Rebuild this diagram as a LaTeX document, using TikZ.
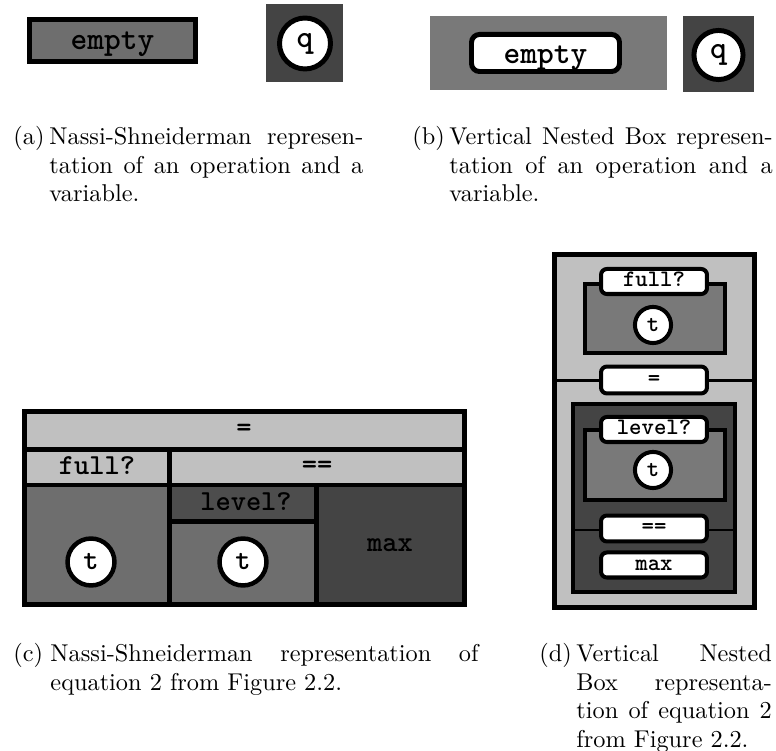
\documentclass[tikz,border=0pt]{standalone}
\usepackage{fontspec}
\definecolor{lg}{HTML}{C0C0C0}
\definecolor{mg}{HTML}{6E6E6E}
\definecolor{mgb}{HTML}{797979}
\definecolor{dg}{HTML}{444444}
\begin{document}
\begin{tikzpicture}[x=0.4237pt,y=-0.4237pt,
  tt/.style={font=\ttfamily\bfseries\fontsize{#1}{#1}\selectfont\addfontfeature{FakeStretch=1.15,FakeBold=1.3}},
  var/.style={circle,draw=black,fill=white,inner sep=0pt,minimum size=#1},
  lbl/.style={rectangle,draw=black,fill=white,line width=1.7pt,rounded corners=2.5pt,
              minimum width=44.9pt,minimum height=10.6pt,inner sep=0pt,tt=10,
              text height=5.6pt,text depth=1pt},
  cap/.style={anchor=base west,inner sep=0pt,text width=#1,align=justify,
              font=\fontsize{10.3}{12.07}\selectfont},
  caplab/.style={anchor=base west,inner sep=0pt,font=\fontsize{10.3}{12.07}\selectfont},
  thick5/.style={line width=2.1pt},
  thick4/.style={line width=1.7pt},
  thin3/.style={line width=1.2pt}]
\useasboundingbox (0,0) rectangle (776,751);

% ---------- (a) ----------
\draw[thick5,fill=mg] (29.75,19.75) rectangle (195.25,61.25);
\node[tt=13.5,anchor=base] (ea) at (112.5,50) {empty};
\fill[dg] (266,4) rectangle (343,82);
\node[var=21.6pt,thick5,tt=13.5] (qa) at (305,43.5) {q};
\node[caplab] (laba) at (13,145) {(a)};
\node[cap=133pt] (capa) at (49,145) {Nassi-Shneiderman~represen-\linebreak tation~of~an~operation~and~a\linebreak variable.};

% ---------- (b) ----------
\fill[mgb] (430,16) rectangle (667,90);
\node[lbl,thick5,minimum width=62.7pt,minimum height=15.7pt,rounded corners=3.4pt,tt=13.5,
      text height=9.5pt,text depth=1pt] (eb) at (545.5,53) {empty};
\fill[dg] (683,16) rectangle (754,92);
\node[var=20.8pt,thick5,tt=13.5] (qb) at (718.5,55) {q};
\node[caplab] (labb) at (412,145) {(b)};
\node[cap=137pt] (capb) at (449,145) {Vertical~Nested~Box~represen-\linebreak tation~of~an~operation~and~a\linebreak variable.};

% ---------- (c) ----------
\fill[lg] (24.5,411.5) rectangle (464.5,485);
\fill[mg] (24.5,485) rectangle (169.5,604.5);
\fill[dg!95!white] (169.5,485) rectangle (316.5,521.5);
\fill[mg] (169.5,521.5) rectangle (316.5,604.5);
\fill[dg] (316.5,485) rectangle (464.5,604.5);
\draw[thick5] (24.5,449.5) -- (464.5,449.5);
\draw[thick5] (24.5,485) -- (464.5,485);
\draw[thick5] (169.5,449.5) -- (169.5,604.5);
\draw[thick5] (316.5,485) -- (316.5,604.5);
\draw[thick5] (169.5,521.5) -- (316.5,521.5);
\draw[thick5] (24.5,411.5) rectangle (464.5,604.5);
\node[tt=12.3,anchor=base] (ceq) at (244,437) {=};
\node[tt=12.3,anchor=base] (cfull) at (97,475) {full?};
\node[tt=12.3,anchor=base] (ceqeq) at (317,474) {==};
\node[tt=12.3,anchor=base] (clevel) at (246,511) {level?};
\node[tt=12.3,anchor=base] (cmax) at (390,552) {max};
\node[var=19.9pt,line width=1.9pt,tt=12.3] (ct1) at (91,562) {t};
\node[var=19.9pt,line width=1.9pt,tt=12.3] (ct2) at (243,562) {t};
\node[caplab] (labc) at (13,662) {(c)};
\node[cap=181.4pt] (capc) at (50,662) {Nassi-Shneiderman~representation~of\linebreak equation~2~from~Figure~2.2.};

% ---------- (d) ----------
\draw[thick5,fill=lg] (554.5,254.5) rectangle (754.5,607.5);
\draw[thin3] (554.5,380.5) -- (754.5,380.5);
\draw[thick4,fill=mgb] (585,284) rectangle (725,353);
\draw[thick4,fill=dg] (573,404) rectangle (735,592);
\draw[thick4,fill=mgb] (585,430) rectangle (725,500);
\draw[thin3] (573,530) -- (735,530);
\node[lbl] (dfull) at (654,281.5) {full?};
\node[var=15.3pt,thick4,tt=10] (dt1) at (653,325) {t};
\node[lbl,minimum height=11.4pt] (deq) at (654,380) {=};
\node[lbl] (dlevel) at (654,429.5) {level?};
\node[var=15.3pt,thick4,tt=10] (dt2) at (653,470) {t};
\node[lbl,minimum height=11pt] (deqeq) at (654,528.5) {==};
\node[lbl] (dmax) at (654,565) {max};
\node[caplab] (labd) at (539,662) {(d)};
\node[cap=82.8pt] (capd) at (576,662) {Vertical~Nested\linebreak Box~representa-\linebreak tion~of~equation~2\linebreak from~Figure~2.2.};
\end{tikzpicture}
\end{document}
